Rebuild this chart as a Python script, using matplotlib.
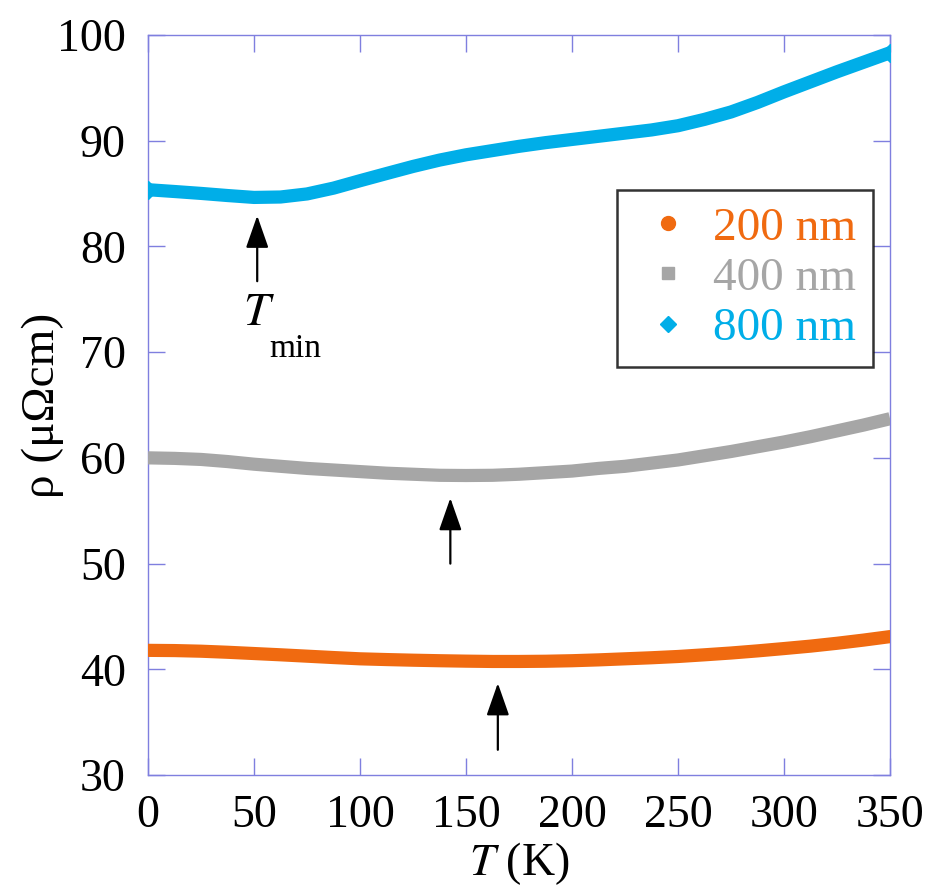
import matplotlib
matplotlib.use("Agg")
import matplotlib.pyplot as plt
from matplotlib.lines import Line2D

plt.rcParams['font.family'] = ['Liberation Serif', 'DejaVu Serif']
plt.rcParams['mathtext.fontset'] = 'stix'

# temperatures (K) and resistivity (uOhm cm)
temp = [0, 12.5, 25, 37.5, 50, 62.5, 75, 87.5, 100, 112.5, 125, 137.5, 150, 162.5, 175,
        187.5, 200, 212.5, 225, 237.5, 250, 262.5, 275, 287.5, 300, 312.5, 325, 337.5, 350]
rho_200 = [41.8, 41.78, 41.72, 41.62, 41.5, 41.38, 41.25, 41.12, 41.0, 40.93, 40.87, 40.82,
           40.78, 40.75, 40.75, 40.77, 40.82, 40.9, 41.0, 41.1, 41.22, 41.38, 41.55, 41.75,
           41.97, 42.2, 42.47, 42.77, 43.1]
rho_400 = [60.0, 59.95, 59.85, 59.65, 59.4, 59.2, 59.0, 58.85, 58.7, 58.55, 58.45, 58.35,
           58.33, 58.35, 58.45, 58.6, 58.75, 59.0, 59.2, 59.5, 59.8, 60.2, 60.6, 61.05,
           61.5, 62.0, 62.55, 63.1, 63.7]
rho_800 = [85.35, 85.18, 85.0, 84.8, 84.62, 84.66, 84.95, 85.5, 86.2, 86.88, 87.55, 88.15,
           88.65, 89.05, 89.45, 89.8, 90.1, 90.4, 90.7, 91.0, 91.4, 92.0, 92.7, 93.6,
           94.6, 95.55, 96.5, 97.4, 98.3]

labels = ['200 nm', '400 nm', '800 nm']
colors = ['#f06a10', '#a6a6a6', '#00aee8']
markers = ['o', 's', 'D']

# T_min arrows: (T, tail, tip)
arrows = [(51.5, 76.7, 82.9), (142.6, 50.0, 56.2), (165.0, 32.4, 38.7)]

spine_col = '#7f7fdf'

fig = plt.figure(figsize=(9.31, 8.91), dpi=100, facecolor='white')
ax = fig.add_axes([0.159, 0.130, 0.797, 0.831])

for y, c, m, cap in zip([rho_200, rho_400, rho_800], colors, markers,
                        ['round', 'butt', 'butt']):
    ax.plot(temp, y, color=c, linewidth=9.5, solid_capstyle=cap,
            solid_joinstyle='round', zorder=3)
    if m == 'D':
        ax.plot([temp[0], temp[-1]], [y[0], y[-1]], linestyle='none',
                marker='D', markersize=9.5, color=c, zorder=3)

for t, tail, tip in arrows:
    ax.annotate('', xy=(t, tip), xytext=(t, tail),
                arrowprops=dict(arrowstyle='-|>,head_length=1.0,head_width=0.35',
                                mutation_scale=20, color='black', lw=1.6,
                                shrinkA=0, shrinkB=0),
                zorder=4)

ax.text(52.5, 73.6, '$T$', fontsize=34, ha='center', va='center')
ax.text(69.5, 70.3, 'min', fontsize=24, ha='center', va='center')

ax.set_xlim(0, 350)
ax.set_ylim(30, 100)
ax.set_xticks(range(0, 351, 50))
ax.set_yticks(range(30, 101, 10))

for s in ax.spines.values():
    s.set_color(spine_col)
    s.set_linewidth(1.0)
ax.tick_params(direction='in', length=12, width=1, color=spine_col,
               top=True, right=True, labelsize=33, labelcolor='black')
ax.tick_params(axis='x', pad=14)
ax.tick_params(axis='y', pad=16)

ax.set_xlabel('$T$ (K)', fontsize=33, labelpad=2)
ax.set_ylabel('ρ (μΩcm)', fontsize=34, labelpad=-5)

handles = [Line2D([], [], linestyle='none', marker=m, color=c, markersize=ms)
           for m, c, ms in zip(markers, colors, [10, 9, 8])]
leg = ax.legend(handles, labels, loc='upper right', bbox_to_anchor=(0.977, 0.790),
                fontsize=34, frameon=True, fancybox=False, borderpad=0.35,
                handlelength=1.5, handletextpad=0.2, labelspacing=0.15,
                borderaxespad=0)
leg.get_frame().set_edgecolor('black')
leg.get_frame().set_linewidth(1.8)
for txt, c in zip(leg.get_texts(), colors):
    txt.set_color(c)

fig.savefig('out.png', dpi=100, facecolor='white')
